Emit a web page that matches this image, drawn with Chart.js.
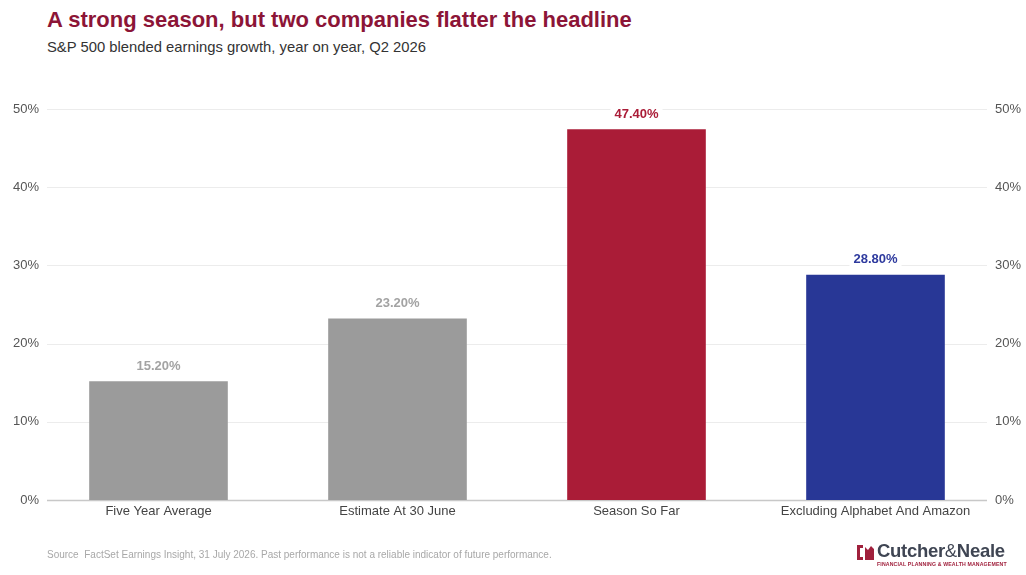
<!DOCTYPE html>
<html>
<head>
<meta charset="utf-8">
<script src="https://cdn.jsdelivr.net/npm/chart.js@4/dist/chart.umd.min.js"></script>
<style>
  body { margin: 0; background: #fff; font-family: "Liberation Sans", Arial, sans-serif; }
  #wrap { position: relative; width: 1026px; height: 575px; overflow: hidden; }
  #plot { position: absolute; left: 0; top: 0; }
  .title { position: absolute; left: 47px; top: 7px; font-size: 22px; font-weight: bold; color: #8c1537; white-space: nowrap; }
  .sub { position: absolute; left: 47px; top: 39px; font-size: 14.8px; color: #333; white-space: nowrap; }
  .source { position: absolute; left: 47px; top: 549px; font-size: 10px; color: #a8a8a8; white-space: nowrap; }
  .logo { position: absolute; left: 857px; top: 543px; white-space: nowrap; }
  .logo svg { position: absolute; left: 0; top: 2px; }
  .logo .name { position: absolute; left: 20px; top: -3px; font-size: 18.5px; font-weight: bold; color: #3f4553; letter-spacing: -0.3px; }
  .logo .name span { font-weight: normal; }
  .logo .tag { position: absolute; left: 20px; top: 18px; font-size: 5.2px; font-weight: bold; color: #a0203c; letter-spacing: 0.15px; }
</style>
</head>
<body>
<div id="wrap">
  <div class="title">A strong season, but two companies flatter the headline</div>
  <div class="sub">S&amp;P 500 blended earnings growth, year on year, Q2 2026</div>
  <canvas id="plot" width="1026" height="575"></canvas>
  <div class="source">Source&nbsp; FactSet Earnings Insight, 31 July 2026. Past performance is not a reliable indicator of future performance.</div>
  <div class="logo">
    <svg width="18" height="15" viewBox="0 0 18 15">
      <path d="M0 0 H6 V3 H3 V12 H6 V15 H0 Z" fill="#a0203c"/>
      <path d="M8 2 L11 5 L14 1 L17 4 L17 15 L8 15 Z" fill="#a0203c"/>
    </svg>
    <div class="name">Cutcher<span>&amp;</span>Neale</div>
    <div class="tag">FINANCIAL PLANNING &amp; WEALTH MANAGEMENT</div>
  </div>
</div>
<script>
// chart data
const categories = ['Five Year Average', 'Estimate At 30 June', 'Season So Far', 'Excluding Alphabet And Amazon']
const growth = [15.2, 23.2, 47.4, 28.8]
const barColours = ['#9b9b9b', '#9b9b9b', '#aa1c37', '#283796']
const labelColours = ['#a3a3a3', '#a3a3a3', '#aa1c37', '#2e3a9e']
const yTicks = [0, 10, 20, 30, 40, 50]

const FONT = '"Liberation Sans", Arial, sans-serif'

// gridlines are inset a bit from the category range
const insetGrid = {
  id: 'insetGrid',
  beforeDatasetsDraw(chart) {
    const ctx = chart.ctx
    const y = chart.scales.y
    const left = chart.chartArea.left + 8
    const right = chart.chartArea.right - 8
    ctx.save()
    yTicks.forEach(v => {
      const py = Math.round(y.getPixelForValue(v)) + 0.5
      ctx.beginPath()
      ctx.strokeStyle = v === 0 ? '#c8c8c8' : '#ececec'
      ctx.lineWidth = v === 0 ? 1.5 : 1
      ctx.moveTo(left, py)
      ctx.lineTo(right, py)
      ctx.stroke()
    })
    ctx.restore()
  }
}

// value labels above bars, with white background over the gridline
const valueLabels = {
  id: 'valueLabels',
  afterDatasetsDraw(chart) {
    const ctx = chart.ctx
    const meta = chart.getDatasetMeta(0)
    ctx.save()
    ctx.font = 'bold 13px ' + FONT
    ctx.textAlign = 'center'
    ctx.textBaseline = 'middle'
    meta.data.forEach((bar, i) => {
      const txt = growth[i].toFixed(2) + '%'
      const w = ctx.measureText(txt).width
      const cy = bar.y - 15
      ctx.fillStyle = '#fff'
      ctx.fillRect(bar.x - w / 2 - 4, cy - 8, w + 8, 16)
      ctx.fillStyle = labelColours[i]
      ctx.fillText(txt, bar.x, cy)
    })
    ctx.restore()
  }
}

const chart = new Chart(document.getElementById('plot'), {
  type: 'bar',
  data: {
    labels: categories,
    datasets: [{
      data: growth,
      backgroundColor: barColours,
      borderWidth: 0,
      barPercentage: 0.58,
      categoryPercentage: 1.0
    }]
  },
  options: {
    responsive: false,
    animation: false,
    events: [],
    layout: { padding: { top: 109, bottom: 45, left: 0, right: 0 } },
    plugins: { legend: { display: false }, tooltip: { enabled: false } },
    scales: {
      x: {
        grid: { display: false, drawTicks: false },
        border: { display: false },
        ticks: { color: '#444', font: { family: FONT, size: 13 }, padding: 4, maxRotation: 0 },
        afterFit(scale) { scale.height = 30 }
      },
      y: {
        position: 'left',
        min: 0, max: 50,
        grid: { display: false, drawTicks: false },
        border: { display: false },
        ticks: { stepSize: 10, color: '#555', font: { family: FONT, size: 13 }, padding: 0, callback: v => v + '%' },
        afterFit(scale) { scale.width = 39 }
      },
      y2: {
        position: 'right',
        min: 0, max: 50,
        grid: { display: false, drawTicks: false },
        border: { display: false },
        ticks: { stepSize: 10, color: '#555', font: { family: FONT, size: 13 }, padding: 0, callback: v => v + '%' },
        afterFit(scale) { scale.width = 31 }
      }
    }
  },
  plugins: [insetGrid, valueLabels]
})
</script>
</body>
</html>
